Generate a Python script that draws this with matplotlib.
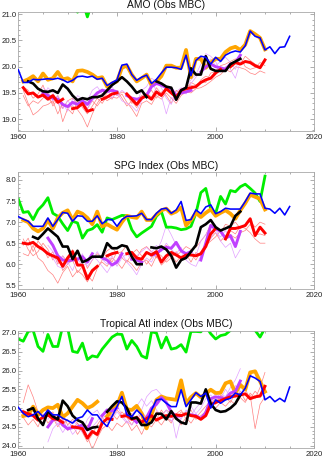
"""
plot.py - AMO / SPG / Tropical Atl indices (Obs MBC), three stacked panels
"""

import numpy as np
import matplotlib
matplotlib.use("Agg")
import matplotlib.pyplot as plt
from matplotlib.ticker import MultipleLocator, FormatStrFormatter

nan = np.nan

# ── Config ──────────────────────────────────────
OBS_START = 1960      # blue observations
HC_START = 1961       # orange / red / thin members
GREEN_START = 1960
C_BLUE = "#0000ff"
C_ORANGE = "#ffa500"
C_RED = "#ff0000"
C_VIOLET = "#c040ff"
C_GREEN = "#00ee00"
C_THIN_RED = "#ff8080"
C_THIN_VIOLET = "#e2a0ff"
# ────────────────────────────────────────────────

# ── AMO ─────────────────────────────────────────
amo_blue = [19.94, 19.70, 19.70, 19.76, 19.75, 19.76, 19.77, 19.76, 19.78, 19.75,
            19.70, 19.74, 19.81, 19.82, 19.80, 19.82, 19.76, 19.78, 19.64, 19.70,
            19.75, 20.03, 20.05, 19.85, 19.74, 19.80, 19.84, 19.68, 19.76, 19.88,
            19.99, 19.99, 19.98, 19.95, 20.22, 19.83, 20.12, 20.20, 20.18, 20.05,
            20.18, 20.10, 20.22, 20.27, 20.30, 20.28, 20.40, 20.68, 20.58, 20.55,
            20.32, 20.38, 20.25, 20.37, 20.38, 20.58]
amo_orange = [19.72, 19.76, 19.82, 19.72, 19.87, 19.75, 19.78, 19.90, 19.76, 19.78,
              19.72, 19.92, 19.93, 19.90, 19.85, 19.78, 19.80, 19.62, 19.68, 19.72,
              19.98, 20.02, 19.85, 19.72, 19.78, 19.85, 19.65, 19.72, 19.82, 20.02,
              20.02, 19.98, 19.98, 20.32, 19.80, 20.15, 20.15, 19.98, 20.08, 20.15,
              20.15, 20.28, 20.35, 20.38, 20.32, 20.42, 20.68, 20.62, 20.55, 20.33]
amo_red = [19.60, 19.48, 19.50, 19.42, 19.46, 19.38, 19.45, 19.32, 19.38, nan,
           19.20, 19.22, 19.30, 19.15, 19.18, nan, 19.38, 19.42, 19.48, 19.50,
           nan, 19.48, 19.38, 19.28, 19.40, 19.45, 19.38, 19.52, 19.45, 19.58,
           19.50, 19.42, 19.55, 19.58, 19.60, 19.62, 19.70, 19.75, 19.78, 19.88,
           19.95, nan, 20.00, 20.08, 20.05, 20.10, 20.08, 20.02, 19.98, 20.13]
amo_black_start = 1962
amo_black = [19.72, 19.68, 19.58, 19.53, 19.52, 19.55, 19.50, 19.66, 19.58, 19.45,
             19.36, 19.40, 19.38, 19.42, 19.42, 19.45, 19.55, 19.65, 19.72, 19.80,
             19.72, 19.62, 19.50, 19.55, 19.42, nan, 19.72, 19.68, 19.62, 19.60,
             19.37, 19.55, 19.60, 19.97, 19.85, 19.85, 20.20, 19.96, 19.92, 19.92,
             19.92, 20.05, 20.10, 20.15]
amo_violet_start = 1965
amo_violet = [19.50, 19.45, 19.40, 19.38, 19.28, 19.24, 19.32, 19.28, 19.35, 19.28,
              19.40, 19.50, 19.55, 19.53, 19.55, 19.52, nan, 19.45, 19.40, 19.38,
              19.40, 19.45, 19.62, 19.68, 19.65, 19.60, 19.58, 19.45, 19.50, 19.52,
              19.55, nan, 19.90, 20.00, 20.05, 20.00, 19.98, 19.95, 20.05, 20.08,
              20.22]
amo_green = [21.35, 21.30, 21.40, 21.45, 21.30, 21.25, 21.45, 21.30, 21.30, 21.50,
             21.55, 21.20, 21.04, 21.25, 20.95, 21.25, 21.22, 21.28, 21.35, 21.45,
             21.55, 21.50, 21.30, 21.45, 21.35, 21.20, 21.20, 21.50, 21.45, 21.30,
             21.40, 21.25, 21.30, 21.35, 21.25, 21.55, 21.55, 21.60, 21.75, 21.55,
             21.45, 21.55, 21.60, 21.70, 21.80, 21.85, 21.90, 21.85, 21.70, 21.55,
             21.80]
amo_thin_red = [
    [19.55, 19.30, 19.08, 19.15, 19.25, 19.28, 19.35, 19.10, 19.30, 19.22,
     19.25, 19.18, 19.05, 18.85, 19.10, 19.30, 19.45, 19.35, 19.42, 19.40,
     19.48, 19.32, 19.20, 19.05, 19.30, 19.35, 19.28, 19.45, 19.38, 19.50,
     19.40, 19.30, 19.45, 19.52, 19.50, 19.58, 19.60, 19.65, 19.72, 19.80,
     19.85, 19.95, 19.90, 20.00, 19.98, 19.95, 19.88, 19.85, 19.92, 19.88],
    [19.62, 19.55, 19.40, 19.48, 19.65, 19.40, 19.30, 19.45, 19.20, 19.35,
     19.40, 19.30, 19.28, 19.20, 19.35, 19.25, 19.38, 19.50, 19.55, 19.45,
     19.52, 19.48, 19.30, 19.38, 19.45, 19.50, 19.42, 19.60, 19.48, 19.62,
     19.55, 19.35, 19.50, 19.62, 19.65, 19.60, 19.75, 19.82, 19.78, 19.92,
     20.02, 20.05, 20.10, 20.15, 20.05, 20.20, 20.12, 20.05, 20.00, 20.10],
    [19.45, 19.25, 19.35, 19.30, 19.40, 19.50, 19.25, 19.38, 18.95, 19.20,
     19.10, 19.35, 19.22, 19.10, 19.25, 19.40, 19.30, 19.45, 19.38, 19.55,
     19.40, 19.25, 19.35, 19.22, 19.38, 19.45, 19.55, 19.40, 19.52, 19.45,
     19.30, 19.55, 19.48, 19.58, 19.70, 19.65, 19.72, 19.70, 19.88, 19.90,
     19.92, 19.98, 20.05, 20.10, 20.18, 20.00, 19.95, 19.98, 20.08, 20.02],
]
amo_thin_violet = [
    [19.60, 19.52, 19.35, 19.45, 19.30, 19.15, 19.38, 19.40, 19.30, 19.35,
     19.55, 19.62, 19.48, 19.58, 19.40, 19.50, 19.35, 19.30, 19.25, 19.15,
     19.35, 19.48, 19.70, 19.55, 19.45, 19.10, 19.42, 19.35, 19.58, 19.62,
     19.75, 19.85, 20.05, 20.25, 20.20, 20.10, 19.90, 20.00, 19.95, 19.78,
     20.10],
    [19.42, 19.60, 19.50, 19.30, 19.20, 19.35, 19.25, 19.45, 19.38, 19.20,
     19.35, 19.45, 19.58, 19.50, 19.62, 19.45, 19.55, 19.48, 19.40, 19.30,
     19.55, 19.62, 19.78, 19.72, 19.60, 19.40, 19.28, 19.52, 19.60, 19.48,
     19.68, 19.80, 19.92, 20.05, 20.15, 20.02, 20.10, 20.18, 20.08, 19.95,
     20.18],
]
amo_thin_violet_start = 1965

# ── SPG ─────────────────────────────────────────
spg_blue = [7.13, 7.07, 7.02, 6.90, 6.90, 6.90, 7.10, 6.90, 7.06, 7.23,
            7.21, 7.02, 7.15, 7.14, 7.02, 7.02, 7.15, 6.96, 7.06, 7.06,
            6.90, 7.06, 7.14, 7.14, 7.15, 7.21, 7.06, 7.06, 7.21, 7.31,
            7.33, 7.21, 7.29, 7.49, 7.04, 7.06, 7.29, 7.20, 7.36, 7.41,
            7.20, 7.25, 7.33, 7.31, 7.31, 7.31, 7.49, 7.69, 7.67, 7.67,
            7.33, 7.31, 7.21, 7.33, 7.17, 7.37]
spg_orange = [7.05, 7.00, 6.85, 6.78, 6.85, 7.05, 6.85, 7.10, 7.22, 7.28,
              7.05, 7.25, 7.20, 7.10, 6.95, 7.25, 6.90, 6.95, 6.88, 6.82,
              7.00, 7.15, 7.12, 7.10, 7.25, 7.05, 7.05, 7.18, 7.28, 7.32,
              7.20, 7.25, 7.35, 6.92, 7.05, 7.22, 7.12, 7.22, 7.30, 7.15,
              7.22, 7.28, 7.20, 7.08, 7.28, 7.45, 7.65, 7.60, 7.55, 7.30]
spg_red = [6.50, 6.48, 6.52, 6.42, 6.35, 6.25, 6.20, 6.15, 5.95, 6.15,
           6.30, 5.98, 5.98, 5.65, 5.85, 5.95, nan, 6.20, 6.25, 6.28,
           nan, 6.25, 6.28, 6.15, 6.12, 6.28, 6.22, 6.30, 6.05, 6.20,
           6.28, 6.22, 6.15, 6.22, 6.22, 6.20, 6.25, 6.42, 6.72, 6.85,
           nan, 6.60, 6.85, 6.85, 6.88, 6.92, 7.08, 6.68, 6.88, 6.74]
spg_black_start = 1963
spg_black = [6.65, 6.60, 6.72, 6.85, 6.75, 6.65, 6.42, 6.42, 6.12, 6.32,
             6.05, 6.10, 6.18, 6.18, 6.18, 6.50, 6.38, 6.38, 6.45, 6.42,
             6.18, 6.00, 6.00, nan, 6.40, 6.38, 6.42, 6.35, 6.20, 5.92,
             6.10, 6.15, 6.30, 6.45, 6.88, 6.95, 7.05, 6.88, 6.80, 6.85,
             6.90, 7.15, 7.25]
spg_violet_start = 1966
spg_violet = [6.62, 6.45, 6.20, 6.10, 6.08, 6.10, 6.12, 6.18, 6.05, 6.25,
              nan, 6.15, 6.10, 5.98, 6.05, 6.25, nan, 6.12, 6.10, 6.05,
              nan, 6.22, 6.25, 6.35, 6.40, 6.38, 6.52, 6.32, 6.25, 6.30,
              nan, 6.10, 6.50, 6.92, 6.85, 6.78, 6.62, 6.68, 6.42, 6.78]
spg_green = [7.55, 7.23, 7.25, 7.06, 7.29, 7.41, 7.58, 7.21, 7.14, 6.96,
             6.80, 7.02, 6.98, 6.62, 6.80, 6.84, 6.94, 6.76, 7.10, 7.06,
             7.11, 7.16, 7.15, 6.82, 6.65, 6.74, 6.82, 6.90, 7.14, 7.25,
             6.88, 6.88, 6.86, 6.82, 6.84, 6.90, 7.21, 7.70, 7.80, 7.31,
             7.21, 7.61, 7.43, 7.75, 7.72, 7.84, 7.90, 7.80, 7.69, 7.49,
             8.09]
spg_thin_red = [
    [6.25, 6.20, 6.45, 6.15, 6.05, 5.85, 5.75, 5.55, 5.80, 5.95,
     5.70, 5.85, 5.75, 5.58, 5.80, 5.95, 6.05, 5.95, 6.15, 6.05,
     5.90, 6.10, 6.00, 5.85, 6.05, 6.10, 5.95, 6.20, 5.98, 6.10,
     6.25, 6.05, 6.20, 6.15, 6.25, 6.10, 6.30, 6.50, 6.62, 6.75,
     6.55, 6.68, 6.80, 6.72, 6.90, 6.85, 6.75, 6.60, 6.50, 6.50],
    [6.45, 6.62, 6.30, 6.55, 6.40, 6.15, 6.30, 6.00, 6.20, 6.05,
     6.35, 6.10, 6.20, 5.90, 6.10, 6.25, 6.15, 6.32, 6.40, 6.25,
     6.30, 6.45, 6.20, 6.15, 6.35, 6.42, 6.30, 6.15, 6.38, 6.45,
     6.35, 6.20, 6.30, 6.42, 6.35, 6.40, 6.55, 6.70, 6.95, 6.88,
     6.75, 6.95, 6.90, 7.00, 6.85, 6.95, 7.02, 6.88, 7.00, 6.95],
    [6.60, 6.35, 6.20, 6.30, 6.50, 6.35, 6.10, 6.25, 5.85, 6.00,
     6.10, 5.80, 5.95, 5.75, 5.60, 5.90, 6.10, 6.20, 6.05, 6.30,
     6.15, 6.05, 6.25, 6.35, 6.20, 6.00, 6.15, 6.28, 6.20, 6.05,
     6.15, 6.30, 6.12, 6.25, 6.05, 6.28, 6.20, 6.45, 6.55, 6.65,
     6.80, 6.60, 6.70, 6.62, 6.75, 6.80, 6.95, 6.70, 6.72, 6.68],
]
spg_thin_violet = [
    [6.30, 6.15, 5.95, 5.90, 6.05, 5.85, 6.15, 5.95, 6.05, 6.20,
     6.10, 5.95, 5.80, 6.00, 6.10, 6.25, 6.05, 5.92, 5.75, 6.00,
     6.15, 6.05, 6.30, 6.55, 6.92, 6.70, 6.45, 6.30, 6.10, 6.00,
     5.95, 6.20, 6.45, 6.60, 6.85, 6.55, 6.40, 6.50, 6.15, 6.35],
    [6.45, 6.30, 6.05, 6.20, 6.00, 6.30, 6.05, 6.25, 5.95, 6.10,
     6.30, 6.12, 6.00, 6.20, 5.95, 6.15, 6.25, 6.10, 6.20, 6.30,
     6.40, 6.28, 6.45, 6.30, 6.50, 6.35, 6.25, 6.40, 6.15, 6.30,
     6.20, 6.55, 6.70, 6.90, 6.75, 6.65, 6.80, 6.60, 6.45, 6.70],
]
spg_thin_violet_start = 1966

# ── Tropical Atlantic ──────────────────────────
trop_blue = [25.02, 24.86, 24.77, 24.82, 24.91, 24.77, 24.95, 24.82, 24.82, 24.73,
             24.67, 24.60, 24.73, 24.77, 24.95, 24.82, 24.82, 24.64, 24.51, 24.78,
             25.04, 25.31, 24.82, 24.77, 24.95, 24.82, 24.60, 24.95, 25.22, 25.24,
             25.13, 25.04, 25.04, 25.49, 25.04, 25.22, 25.41, 25.31, 25.40, 25.00,
             25.22, 25.13, 25.22, 25.26, 25.40, 25.35, 25.53, 25.86, 25.80, 25.71,
             25.22, 25.31, 25.17, 25.26, 25.17, 25.56]
trop_orange = [24.79, 24.82, 25.04, 24.82, 24.95, 25.02, 25.00, 25.09, 24.76, 24.86,
               25.04, 25.22, 25.13, 25.00, 25.06, 25.17, nan, 24.78, 24.95, 25.06,
               25.41, 24.97, 24.95, 25.06, 24.86, 24.46, 24.82, 25.22, 25.31, 25.26,
               25.24, 25.22, 25.74, 25.13, 25.29, 25.40, 25.29, 25.38, 25.49, 25.40,
               25.41, 25.66, 25.71, 25.40, 25.62, 25.49, 25.95, 25.98, 25.71, 25.44]
trop_red = [24.90, 24.85, 24.80, 24.68, 24.75, 24.82, 24.72, 24.70, 24.62, nan,
            24.50, 24.48, 24.45, 24.20, 24.38, 24.30, 24.60, 24.72, 24.70, nan,
            24.78, 24.80, 24.70, 24.75, 24.62, 24.72, 24.80, 24.68, 24.75, 24.80,
            24.78, 24.82, 24.80, 24.85, 24.80, 24.78, 24.70, 24.80, 25.10, 25.15,
            25.20, 25.25, 25.30, 25.32, 25.35, 25.38, 25.25, 25.30, 25.32, 25.58]
trop_black_start = 1962
trop_black = [24.95, 25.00, 24.72, 24.55, 24.92, 24.78, 24.70, 25.20, 25.05, 24.80,
              24.68, 24.62, 24.42, 24.48, 24.50, nan, 24.90, 25.05, 25.18, 25.15,
              25.00, 24.72, 24.75, 24.55, 24.55, 24.62, 24.85, 24.85, 24.70, 24.92,
              24.72, 24.62, 24.58, 25.15, 25.15, 25.12, 25.50, 25.12, 24.95, 24.90,
              24.92, 25.00, 25.12, 25.35]
trop_violet_start = 1966
trop_violet = [24.50, 24.68, 24.72, 24.55, 24.45, 24.48, 24.50, 24.55, 24.42, 24.72,
               nan, 24.80, 24.95, 24.92, 25.00, nan, 24.85, 24.75, 24.62, nan,
               24.75, 25.00, 25.10, 25.28, 25.15, 24.90, 24.78, 24.80, nan, 24.82,
               24.80, 24.72, 24.88, 25.25, 25.30, 25.28, 25.25, 25.40, 25.45, 25.72]
trop_green = [26.84, 26.78, 27.04, 27.07, 26.64, 26.51, 26.96, 26.64, 26.64, 27.18,
              27.13, 26.51, 26.48, 26.73, 26.29, 26.39, 26.36, 26.57, 26.73, 26.89,
              26.97, 26.96, 26.57, 26.80, 26.64, 26.39, 26.33, 27.03, 27.00, 26.60,
              26.89, 26.57, 26.60, 26.69, 26.49, 27.04, 27.04, 27.03, 27.18, 26.98,
              26.84, 26.93, 26.96, 27.07, 27.25, 27.35, 27.30, 27.40, 27.07, 26.89,
              27.13]
trop_thin_red = [
    [25.15, 25.62, 25.30, 24.90, 24.75, 24.95, 24.65, 24.80, 24.55, 24.70,
     24.45, 24.60, 24.35, 24.10, 24.30, 24.55, 24.75, 24.60, 24.85, 24.70,
     24.90, 24.75, 24.55, 24.80, 24.65, 24.50, 24.85, 24.70, 24.95, 24.75,
     24.60, 24.85, 24.95, 24.70, 24.85, 24.75, 24.90, 25.05, 25.20, 25.10,
     25.35, 25.25, 25.40, 25.30, 25.45, 25.20, 25.35, 24.45, 25.10, 25.30],
    [24.75, 24.55, 24.70, 24.50, 24.85, 24.60, 24.75, 24.50, 24.70, 24.40,
     24.55, 24.30, 24.50, 24.25, 23.90, 24.20, 24.45, 24.55, 24.40, 24.60,
     24.50, 24.65, 24.40, 24.55, 24.30, 24.60, 24.50, 24.70, 24.55, 24.75,
     24.65, 24.80, 24.55, 24.75, 24.60, 24.80, 24.70, 24.95, 25.05, 25.00,
     25.15, 25.05, 25.20, 25.10, 25.28, 25.15, 25.40, 25.25, 25.55, 25.95],
    [24.95, 24.80, 24.95, 24.75, 24.60, 24.80, 24.90, 24.65, 24.85, 24.55,
     24.70, 24.60, 24.40, 24.55, 24.35, 24.25, 24.80, 24.90, 24.75, 24.95,
     24.80, 24.90, 24.85, 24.65, 24.90, 24.75, 24.65, 24.90, 24.80, 24.95,
     24.85, 24.70, 24.90, 24.85, 24.95, 24.70, 24.80, 24.90, 25.15, 25.25,
     25.20, 25.30, 25.15, 25.40, 25.35, 25.50, 25.25, 25.45, 25.30, 25.40],
]
trop_thin_violet = [
    [24.10, 24.45, 24.60, 24.35, 24.55, 24.30, 24.45, 24.60, 24.25, 24.50,
     24.65, 24.85, 24.70, 24.95, 25.10, 24.80, 24.65, 24.55, 24.75, 24.95,
     25.30, 25.45, 25.50, 25.35, 25.15, 24.85, 24.20, 24.75, 24.90, 25.05,
     24.85, 25.00, 25.25, 25.35, 25.20, 25.40, 25.30, 25.55, 25.75, 26.05],
    [24.70, 24.85, 24.55, 24.75, 24.40, 24.65, 24.55, 24.35, 24.70, 24.85,
     24.95, 24.70, 24.85, 24.70, 24.90, 24.75, 24.60, 24.80, 25.05, 25.25,
     25.05, 25.20, 24.95, 24.80, 24.95, 24.65, 24.85, 24.70, 24.95, 24.80,
     25.00, 25.15, 25.35, 25.10, 25.45, 25.25, 25.50, 25.30, 25.60, 25.45],
]
trop_thin_violet_start = 1966

titles = ["AMO (Obs MBC)", "SPG Index (Obs MBC)", "Tropical Atl index (Obs MBC)"]
ylims = [(18.78, 21.05), (5.405, 8.19), (23.93, 27.06)]


def yrs(start, vals):
    return np.arange(start, start + len(vals))


def draw_panel(ax, d, title, ylim):
    for v in d["thin_red"]:
        ax.plot(yrs(HC_START, v), v, color=C_THIN_RED, lw=0.5, zorder=1)
    for v in d["thin_violet"]:
        ax.plot(yrs(d["thin_violet_start"], v), v, color=C_THIN_VIOLET, lw=0.5, zorder=1)
    ax.plot(yrs(GREEN_START, d["green"]), d["green"], color=C_GREEN, lw=2.0, zorder=2)
    ax.plot(yrs(HC_START, d["orange"]), d["orange"], color=C_ORANGE, lw=2.7, zorder=3)
    ax.plot(yrs(d["violet_start"], d["violet"]), d["violet"], color=C_VIOLET, lw=2.1, zorder=4)
    ax.plot(yrs(HC_START, d["red"]), d["red"], color=C_RED, lw=2.1, zorder=5)
    ax.plot(yrs(d["black_start"], d["black"]), d["black"], color="black", lw=1.9, zorder=6)
    ax.plot(yrs(OBS_START, d["blue"]), d["blue"], color=C_BLUE, lw=1.15, zorder=7)

    ax.set_xlim(1960, 2020)
    ax.set_ylim(*ylim)
    ax.set_title(title, fontsize=7.4, pad=2.5, color="#111111")
    ax.xaxis.set_major_locator(MultipleLocator(20))
    ax.xaxis.set_minor_locator(MultipleLocator(5))
    ax.yaxis.set_major_locator(MultipleLocator(0.5))
    ax.yaxis.set_minor_locator(MultipleLocator(0.1))
    ax.yaxis.set_major_formatter(FormatStrFormatter("%.1f"))
    ax.tick_params(which="both", direction="in", top=True, right=True,
                   color="#a0a0a0", width=0.6, labelsize=5.6, labelcolor="#222222")
    ax.tick_params(which="major", length=3.0)
    ax.tick_params(which="minor", length=1.6)
    ax.tick_params(axis="x", pad=2.2)
    ax.tick_params(axis="y", pad=1.3)
    for s in ax.spines.values():
        s.set_color("#a8a8a8")
        s.set_linewidth(0.6)


panels = [
    dict(blue=amo_blue, orange=amo_orange, red=amo_red, black=amo_black,
         black_start=amo_black_start, violet=amo_violet, violet_start=amo_violet_start,
         green=amo_green, thin_red=amo_thin_red, thin_violet=amo_thin_violet,
         thin_violet_start=amo_thin_violet_start),
    dict(blue=spg_blue, orange=spg_orange, red=spg_red, black=spg_black,
         black_start=spg_black_start, violet=spg_violet, violet_start=spg_violet_start,
         green=spg_green, thin_red=spg_thin_red, thin_violet=spg_thin_violet,
         thin_violet_start=spg_thin_violet_start),
    dict(blue=trop_blue, orange=trop_orange, red=trop_red, black=trop_black,
         black_start=trop_black_start, violet=trop_violet, violet_start=trop_violet_start,
         green=trop_green, thin_red=trop_thin_red, thin_violet=trop_thin_violet,
         thin_violet_start=trop_thin_violet_start),
]

plt.rcParams["font.family"] = ["Liberation Sans", "DejaVu Sans"]

fig = plt.figure(figsize=(3.23, 4.59), dpi=100)
left, width = 0.0567, 0.9164
boxes = [(0.7153, 0.2593), (0.3697, 0.2556), (0.0233, 0.2562)]

for (bottom, height), d, title, ylim in zip(boxes, panels, titles, ylims):
    ax = fig.add_axes([left, bottom, width, height])
    draw_panel(ax, d, title, ylim)

fig.savefig("out.png", dpi=100)
plt.close(fig)
